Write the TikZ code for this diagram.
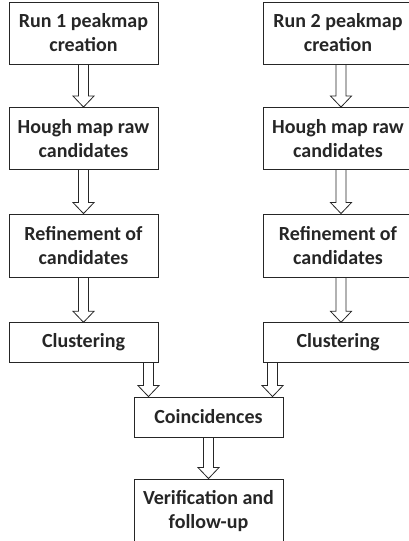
\documentclass[tikz,border=0pt]{standalone}
\usepackage{fontspec}
\setmainfont{Carlito}
\usetikzlibrary{calc}
\definecolor{ink}{RGB}{38,38,38}
\tikzset{
  stage/.style={draw=ink,line width=0.9pt,fill=white,text=ink,minimum width=149pt,
    minimum height=62pt,inner sep=0pt,align=center,
    font=\fontsize{20}{24}\selectfont\bfseries},
  short stage/.style={stage,minimum height=39.5pt},
  hollow/.style={draw=ink,line width=0.8pt,line join=miter},
}
% hollow block arrow from #1 straight down to the level of #2
\newcommand{\hollowarrow}[2]{%
  \path (#1) coordinate (hs) (hs|-#2) coordinate (he);
  \draw[hollow] ($(hs)+(-5,0)$) -- ($(he)+(-5,-11)$) -- ($(he)+(-10.5,-11)$) -- (he)
    -- ($(he)+(10.5,-11)$) -- ($(he)+(5,-11)$) -- ($(hs)+(5,0)$);}

\begin{document}
\begin{tikzpicture}[x=1pt,y=-1pt]
  \useasboundingbox (0,0) rectangle (409,541);
  % run 1
  \node[stage] (a1) at (83.5,33) {Run 1 peakmap\\creation};
  \node[stage] (a2) at (83.5,138.5) {Hough map raw\\candidates};
  \node[stage,minimum height=63pt] (a3) at (83.5,245.5) {Refinement of\\candidates};
  \node[short stage] (a4) at (83.5,342.5) {Clustering};
  % run 2
  \node[stage] (b1) at (338,33) {Run 2 peakmap\\creation};
  \node[stage] (b2) at (338,138.5) {Hough map raw\\candidates};
  \node[stage,minimum height=63pt] (b3) at (338,245.5) {Refinement of\\candidates};
  \node[short stage] (b4) at (338,342.5) {Clustering};
  % merged part
  \node[short stage,minimum height=40pt] (coin) at (208.5,417) {Coincidences};
  \node[stage,minimum height=64pt] (veri) at (208.5,511) {Verification and\\follow-up};

  \hollowarrow{a1.south}{a2.north}
  \hollowarrow{a2.south}{a3.north}
  \hollowarrow{a3.south}{a4.north}
  \hollowarrow{[xshift=3pt]b1.south}{b2.north}
  \hollowarrow{[xshift=3pt]b2.south}{b3.north}
  \hollowarrow{[xshift=3pt]b3.south}{b4.north}
  \hollowarrow{[xshift=-10pt]a4.south east}{coin.north}
  \hollowarrow{[xshift=9.5pt]b4.south west}{coin.north}
  \hollowarrow{coin.south}{veri.north}
\end{tikzpicture}
\end{document}
